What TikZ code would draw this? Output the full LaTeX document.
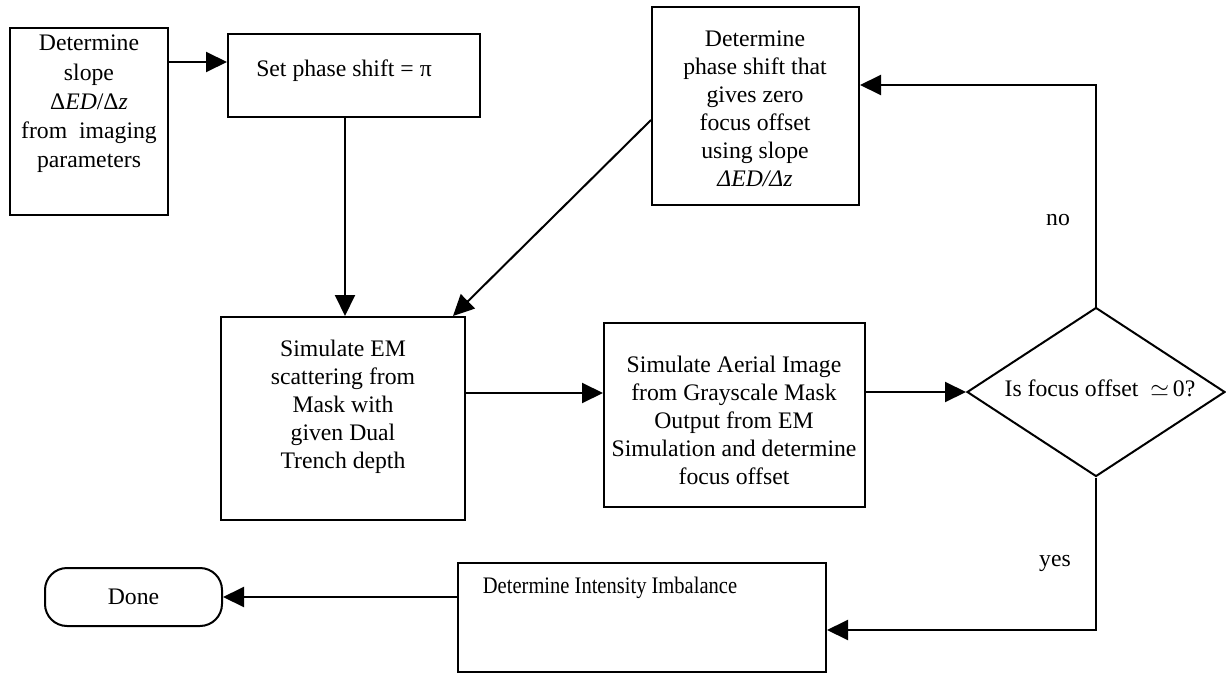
\documentclass[tikz,border=0pt]{standalone}
\usepackage{fontspec}
\setmainfont{Liberation Serif}
\usetikzlibrary{arrows.meta,shapes.geometric}
\tikzset{
  box/.style={draw, line width=1pt, inner sep=0pt},
  txt/.style={align=center, inner sep=0pt, font=\fontsize{11.85}{14}\selectfont},
  arr/.style={line width=1pt, -{Triangle[length=10.5pt,width=10pt]}},
  ln/.style={line width=1pt}
}
\begin{document}
\begin{tikzpicture}[x=0.5pt,y=-0.5pt]
\useasboundingbox (0,0) rectangle (1226,674);
% boxes
\node[box, minimum width=79pt, minimum height=93.5pt] (A) at (89,121.5) {};
\node[txt, font=\fontsize{11.85}{14.6}\selectfont] (At) at (89,104) {Determine\\slope\\Δ{\itshape ED}/Δ{\itshape z}\\from\ \ imaging\\parameters};
\node[box, minimum width=126pt, minimum height=41.5pt] (B) at (354,75.5) {};
\node[txt] (Bt) at (344,71) {Set phase shift = π};
\node[box, minimum width=122pt, minimum height=101.5pt] (C) at (343,418.5) {};
\node[txt] (Ct) at (343,407) {Simulate EM\\scattering from\\Mask with\\given Dual\\Trench depth};
\node[box, minimum width=103.5pt, minimum height=99pt] (D) at (755.5,106) {};
\node[txt] (Dt) at (755,109) {Determine\\phase shift that\\gives zero\\focus offset\\using slope\\{\itshape ΔED/Δz}};
\node[box, minimum width=130.5pt, minimum height=92pt] (E) at (734.5,415) {};
\node[txt] (Et) at (734,420) {Simulate Aerial Image\\from Grayscale Mask\\Output from EM\\Simulation and determine\\focus offset};
\node[box, diamond, minimum width=129pt, minimum height=84.5pt] (G) at (1096,392) {};
\node[txt] (Gt) at (1100,388) {Is focus offset\ \ $\simeq$\,0?};
\node[box, minimum width=184pt, minimum height=54.5pt] (F) at (642,617.5) {};
\node[txt] (Ft) at (610,588) {\scalebox{0.866}[1]{Determine Intensity Imbalance}};
\node[box, rounded corners=11pt, minimum width=88.5pt, minimum height=29pt] (H) at (133.5,597) {};
\node[txt] (Ht) at (133.5,597) {Done};
\node[txt] (no) at (1058,220) {no};
\node[txt] (yes) at (1055,563) {yes};
% connectors
\draw[arr] (A.east |- 0,62) -- (B.west |- 0,62);
\draw[arr] (B.south -| 345,0) -- (C.north -| 345,0);
\draw[arr] (D.west |- 0,120) -- (C.north -| 453,0);
\draw[arr] (C.east |- 0,393) -- (E.west |- 0,393);
\draw[arr] (E.east |- 0,392) -- (G.west);
\draw[arr] (G.north) |- (D.east |- 0,85);
\draw[arr] (G.south) |- (F.east |- 0,630);
\draw[arr] (F.west |- 0,597) -- (H.east);
\end{tikzpicture}
\end{document}
